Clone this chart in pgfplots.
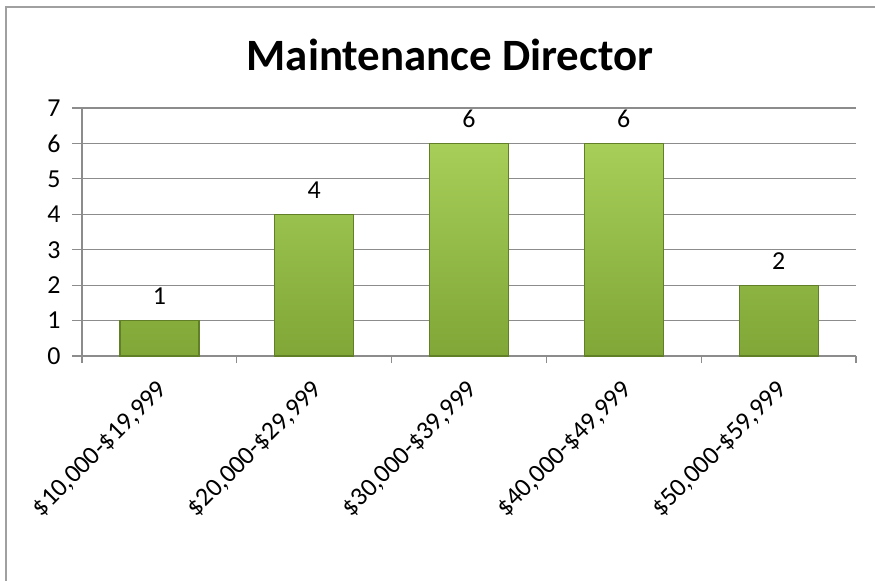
\documentclass[border=0pt]{standalone}
\usepackage{pgfplots}
\pgfplotsset{compat=1.18}
\usepackage{fontspec}
\setmainfont{Carlito}

\definecolor{gridgray}{HTML}{8C8C8C}
\definecolor{frame}{HTML}{A0A0A0}
\definecolor{bartop}{HTML}{A6CE58}
\definecolor{barbot}{HTML}{80A737}
\definecolor{baredge}{HTML}{617F26}

\begin{document}
\begin{tikzpicture}
\clip (0,0) rectangle (875bp,-581bp);
% chart frame (only top and left edges fall inside the picture)
\draw[frame, line width=1.6bp] (6bp,-600bp) |- (900bp,-7bp);
\node[font=\fontsize{45}{54}\selectfont\bfseries, anchor=base] at (450bp,-70bp) {Maintenance Director};
\begin{axis}[
    at={(82bp,-356bp)}, anchor=south west,
    width=774bp, height=248bp, scale only axis,
    xmin=-0.5, xmax=4.5, ymin=0, ymax=7,
    axis x line*=bottom, axis y line*=left,
    axis line style={gridgray, line width=1.2bp, -},
    ytick={0,...,7},
    ymajorgrids, grid style={gridgray, line width=1.2bp},
    xtick={0,...,4},
    minor xtick={-0.5,0.5,...,4.5},
    xticklabels={{\$10,000-\$19,999}, {\$20,000-\$29,999}, {\$30,000-\$39,999}, {\$40,000-\$49,999}, {\$50,000-\$59,999}},
    tick align=outside,
    major x tick style={draw=none},
    minor tick length=7bp,
    major tick length=10bp,
    tick style={gridgray, line width=1.2bp},
    ticklabel style={font=\fontsize{26}{31}\selectfont},
    yticklabel style={xshift=-8bp},
    xticklabel style={rotate=45, anchor=east, xshift=-8bp, yshift=-17bp},
    /pgf/number format/assume math mode=true,
    nodes near coords,
    every node near coord/.append style={font=\fontsize{26}{31}\selectfont, black, yshift=12bp},
]
\addplot[ybar, bar width=79bp, top color=bartop, bottom color=barbot, draw=baredge, line width=1.2bp]
  coordinates {(0,1) (1,4) (2,6) (3,6) (4,2)};
\end{axis}
\end{tikzpicture}
\end{document}
